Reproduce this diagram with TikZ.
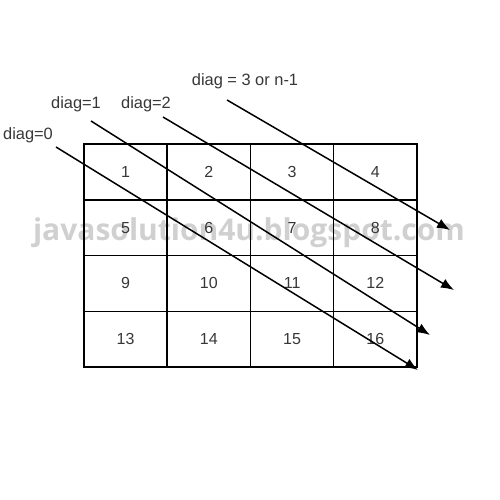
\documentclass[tikz,border=0pt]{standalone}
\usepackage{fontspec}
\setmainfont{Liberation Sans}
\newfontfamily\markfont{Open Sans}
\usepackage{tikz}
\usetikzlibrary{arrows.meta}
\definecolor{markgray}{RGB}{208,208,208}
\definecolor{numgray}{RGB}{55,55,55}

\begin{document}
\begin{tikzpicture}[>={Latex[length=13pt, width=10pt]}, x=1pt, y=-1pt, line width=1.5pt,
    cell/.style={draw, minimum width=83.25pt, minimum height=55.75pt, inner sep=0pt, text=numgray, font=\fontsize{16}{16}\selectfont},
    diaglabel/.style={inner sep=0pt, text=numgray, font=\fontsize{16.4}{16.4}\selectfont}]
      \useasboundingbox (0,0) rectangle (500,500);

      % watermark
      \node[text=markgray, inner sep=0pt, font=\markfont\bfseries\fontsize{30}{30}\selectfont] (mark) at (249,233) {javasolution4u.blogspot.com};

      % the 4x4 grid
      \foreach \r in {0,...,3}
        \foreach \c in {0,...,3} {
          \pgfmathtruncatemacro{\k}{4*\r+\c+1}
          \node[cell] (c\k) at (125.6+83.25*\c, 171.9+55.75*\r) {\k};
        }

      \node[diaglabel] (l0) at (28,135) {diag=0};
      \node[diaglabel] (l1) at (76,104) {diag=1};
      \node[diaglabel] (l2) at (146,104) {diag=2};
      \node[diaglabel] (l3) at (245,81) {diag = 3 or n-1};

      \coordinate (s0) at (56,147);
      \coordinate (s1) at (91,121);
      \coordinate (s2) at (163,117);
      \coordinate (s3) at (227,100);
      \coordinate (e0) at (418,370);
      \coordinate (e1) at (430,335);
      \coordinate (e2) at (454,290);
      \coordinate (e3) at (450,230);

      \foreach \i in {0,...,3}
        \draw[->] (s\i) -- (e\i);
    \end{tikzpicture}
\end{document}
